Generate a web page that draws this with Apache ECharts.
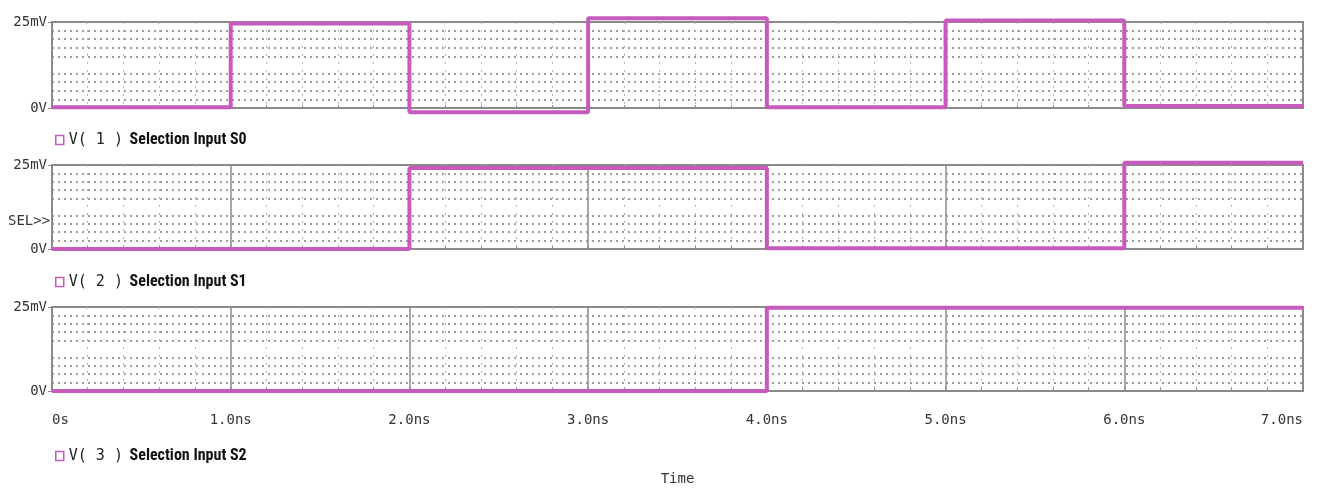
<!DOCTYPE html>
<html>
<head>
<meta charset="utf-8">
<script src="https://cdn.jsdelivr.net/npm/echarts@6/dist/echarts.min.js"></script>
<style>html,body{margin:0;padding:0;background:#fff}#c{width:1317px;height:492px}</style>
</head>
<body>
<div id="c"></div>
<script>
// Transition times (ns) and held voltage levels (mV)
var times = [0, 1, 2, 3, 4, 5, 6, 7];
var s0Values = [0.2, 24.6, -1.2, 26.1, 0.2, 25.4, 0.6, 0.6];
var s1Values = [0, 0, 24.1, 24.1, 0.2, 0.2, 25.7, 25.7];
var s2Values = [0, 0, 0, 0, 24.8, 24.8, 24.8, 24.8];
var seriesNames = ['V(1)', 'V(2)', 'V(3)'];
var legendNums = ['1', '2', '3'];
var legendLabels = ['Selection Input S0', 'Selection Input S1', 'Selection Input S2'];
var xTickLabels = ['0s', '1.0ns', '2.0ns', '3.0ns', '4.0ns', '5.0ns', '6.0ns', '7.0ns'];
var yTickLabels = {0: '0V', 25: '25mV'};

var PINK = '#c75abd';
var GRAY = '#8a8a8a';
var MONO = 'DejaVu Sans Mono';

var grids = [
  {left: 52, right: 14, top: 22, height: 86, show: true, borderColor: GRAY, borderWidth: 2, backgroundColor: '#fff'},
  {left: 52, right: 14, top: 165, height: 84, show: true, borderColor: GRAY, borderWidth: 2, backgroundColor: '#fff'},
  {left: 52, right: 14, top: 307, height: 84, show: true, borderColor: GRAY, borderWidth: 2, backgroundColor: '#fff'}
];

var xAxes = [], yAxes = [], series = [], legends = [];
var allVals = [s0Values, s1Values, s2Values];
var legendTops = [127, 269, 443];

for (var i = 0; i < 3; i++) {
  var isBottom = (i === 2);
  xAxes.push({
    type: 'value', gridIndex: i, min: 0, max: 7, interval: 1, position: 'bottom',
    axisLine: {show: false},
    axisTick: {show: true, inside: true, length: 4, lineStyle: {color: GRAY}},
    minorTick: {show: true, splitNumber: 5, length: 3, lineStyle: {color: GRAY}},
    splitLine: {show: true, lineStyle: {color: GRAY, width: 1.5}},
    minorSplitLine: {show: true, lineStyle: {color: '#b4b4b4', width: 1, type: [2, 6]}},
    axisLabel: {
      show: isBottom, margin: 22, fontFamily: MONO, fontSize: 14, color: '#333',
      alignMinLabel: 'left', alignMaxLabel: 'right',
      formatter: function (v) { return xTickLabels[Math.round(v)]; }
    },
    name: isBottom ? 'Time' : '', nameLocation: 'middle', nameGap: 81,
    nameTextStyle: {fontFamily: MONO, fontSize: 14, color: '#333'}
  });
  yAxes.push({
    type: 'value', gridIndex: i, min: 0, max: 25, interval: 12.5,
    axisLine: {show: false},
    axisTick: {show: true, length: 4, lineStyle: {color: GRAY},
      customValues: [0, 25]},
    splitLine: {show: true, lineStyle: {color: GRAY, width: 2}},
    minorTick: {show: false, splitNumber: 5},
    minorSplitLine: {show: true, lineStyle: {color: '#9c9c9c', width: 2, type: [2, 4]}},
    axisLabel: {
      margin: 5, fontFamily: MONO, fontSize: 14, color: '#333',
      formatter: function (v) { return yTickLabels[v] || ''; }
    }
  });
  var data = times.map(function (t, k) { return [t, allVals[i][k]]; });
  series.push({
    name: seriesNames[i], type: 'line', step: 'end', xAxisIndex: i, yAxisIndex: i,
    data: data, showSymbol: false, symbol: 'none', clip: false, animation: false,
    lineStyle: {color: PINK, width: 4}, itemStyle: {color: PINK}, z: 5
  });
  legends.push({
    left: 50, top: legendTops[i], data: [seriesNames[i]], icon: 'rect',
    itemWidth: 8, itemHeight: 9, itemGap: 4, selectedMode: false,
    itemStyle: {color: '#fff', borderColor: PINK, borderWidth: 1.5},
    formatter: (function (n, l) { return function () { return '{v|V( ' + n + ' )}  {s|' + l + '}'; }; })(legendNums[i], legendLabels[i]),
    textStyle: {
      rich: {
        v: {fontFamily: MONO, fontSize: 15, color: '#222'},
        s: {fontFamily: "'Liberation Sans Narrow', 'Roboto Condensed', Roboto, sans-serif", fontWeight: 'bold', fontSize: 16, color: '#111'}
      }
    }
  });
}

var chart = echarts.init(document.getElementById('c'), null, {renderer: 'canvas'});
chart.setOption({
  backgroundColor: '#fff',
  animation: false,
  grid: grids,
  xAxis: xAxes,
  yAxis: yAxes,
  legend: legends,
  series: series,
  graphic: [{
    type: 'text', left: 8, top: 214,
    style: {text: 'SEL>>', fontFamily: MONO, fontSize: 14, fill: '#333'}
  }]
});
</script>
</body>
</html>
